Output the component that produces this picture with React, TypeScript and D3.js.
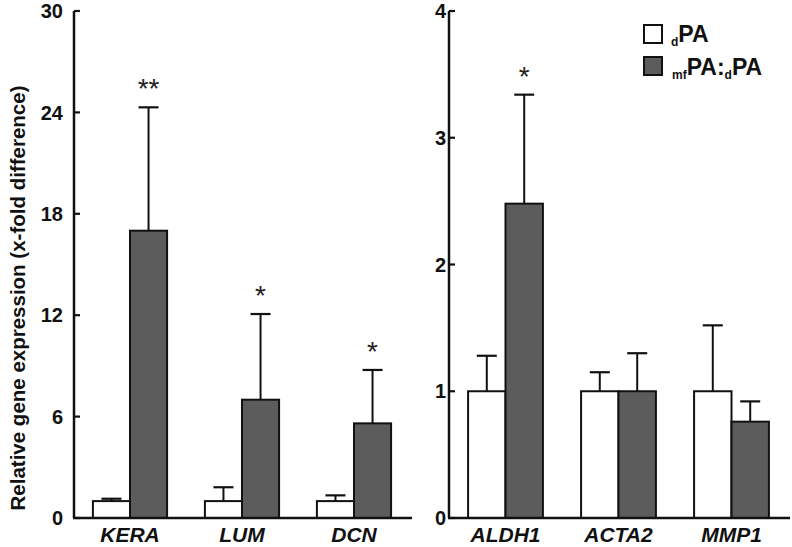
import React from 'react'
import * as d3 from 'd3'

// left panel genes
const genesLeft = ['KERA', 'LUM', 'DCN']
const dpaLeft = [1.0, 1.0, 1.0]
const dpaLeftErr = [1.14, 1.82, 1.34]
const mfLeft = [17.0, 7.0, 5.6]
const mfLeftErr = [24.3, 12.07, 8.76]
const sigLeft = ['**', '*', '*']
const ticksLeft = [0, 6, 12, 18, 24, 30]

// right panel genes
const genesRight = ['ALDH1', 'ACTA2', 'MMP1']
const dpaRight = [1.0, 1.0, 1.0]
const dpaRightErr = [1.28, 1.15, 1.52]
const mfRight = [2.48, 1.0, 0.76]
const mfRightErr = [3.34, 1.30, 0.92]
const sigRight = ['*', '', '']
const ticksRight = [0, 1, 2, 3, 4]

const series = ['dPA', 'mfPA']
const fills: Record<string, string> = { dPA: '#ffffff', mfPA: '#5c5c5c' }

const W = 792
const H = 547
const bottom = 518
const top = 11
const font = 'Arial, "Liberation Sans", Helvetica, sans-serif'

interface PanelProps {
  genes: string[]
  dpa: number[]
  dpaErr: number[]
  mf: number[]
  mfErr: number[]
  sig: string[]
  ticks: number[]
  max: number
  x0: number
  x1: number
  labelDx: number
}

const Panel: React.FC<PanelProps> = ({ genes, dpa, dpaErr, mf, mfErr, sig, ticks, max, x0, x1, labelDx }) => {
  const y = d3.scaleLinear().domain([0, max]).range([bottom, top])
  const x = d3.scaleBand<string>().domain(genes).range([x0, x1]).padding(0)
  const xs = d3.scaleBand<string>().domain(series).range([0, x.bandwidth()]).paddingInner(0).paddingOuter(0.51)
  const bw = xs.bandwidth()

  return (
    <g>
      {genes.map((g, i) => {
        const vals = [
          { s: 'dPA', v: dpa[i], e: dpaErr[i] },
          { s: 'mfPA', v: mf[i], e: mfErr[i] }
        ]
        return (
          <g key={g}>
            {vals.map(d => {
              const bx = (x(g) || 0) + (xs(d.s) || 0)
              const cx = bx + bw / 2
              return (
                <g key={d.s}>
                  <line x1={cx} x2={cx} y1={y(d.v)} y2={y(d.e)} stroke="#111" strokeWidth={2} />
                  <line x1={cx - 10} x2={cx + 10} y1={y(d.e)} y2={y(d.e)} stroke="#111" strokeWidth={2.2} />
                  <rect x={bx} y={y(d.v)} width={bw} height={bottom - y(d.v)} fill={fills[d.s]} stroke="#111" strokeWidth={2} />
                </g>
              )
            })}
            {sig[i] && (
              <text
                x={(x(g) || 0) + (xs('mfPA') || 0) + bw / 2}
                y={y(mfErr[i]) - 9}
                textAnchor="middle"
                fontSize={28}
                fill="#222"
                fontFamily={font}
              >
                {sig[i]}
              </text>
            )}
            <text
              x={(x(g) || 0) + x.bandwidth() / 2}
              y={542}
              textAnchor="middle"
              fontSize={21}
              fontWeight="bold"
              fontStyle="italic"
              fill="#111"
              fontFamily={font}
            >
              {g}
            </text>
          </g>
        )
      })}
      {/* axes */}
      <line x1={x0} x2={x0} y1={top} y2={bottom} stroke="#111" strokeWidth={2.5} />
      <line x1={x0 - 1} x2={x1 + 2} y1={bottom} y2={bottom} stroke="#111" strokeWidth={2.5} />
      {ticks.map(t => (
        <g key={t}>
          <line x1={x0} x2={x0 + 6} y1={y(t)} y2={y(t)} stroke="#111" strokeWidth={2.2} />
          <text
            x={x0 - labelDx}
            y={y(t)}
            dy="0.36em"
            textAnchor="end"
            fontSize={20}
            fontWeight="bold"
            fill="#111"
            fontFamily={font}
          >
            {t}
          </text>
        </g>
      ))}
    </g>
  )
}

const App: React.FC = () => {
  return (
    <svg width={W} height={H} style={{ position: 'absolute', left: 0, top: 0, background: '#fff' }}>
      <rect x={0} y={0} width={W} height={H} fill="#fff" />
      <text
        transform={`translate(25, 298) rotate(-90)`}
        textAnchor="middle"
        fontSize={20.5}
        fontWeight="bold"
        fill="#111"
        fontFamily={font}
      >
        Relative gene expression (x-fold difference)
      </text>
      <Panel
        genes={genesLeft}
        dpa={dpaLeft}
        dpaErr={dpaLeftErr}
        mf={mfLeft}
        mfErr={mfLeftErr}
        sig={sigLeft}
        ticks={ticksLeft}
        max={30}
        x0={74}
        x1={410}
        labelDx={11}
      />
      <Panel
        genes={genesRight}
        dpa={dpaRight}
        dpaErr={dpaRightErr}
        mf={mfRight}
        mfErr={mfRightErr}
        sig={sigRight}
        ticks={ticksRight}
        max={4}
        x0={449}
        x1={788}
        labelDx={3}
      />
      {/* legend */}
      <g fontFamily={font} fontWeight="bold" fill="#111">
        <rect x={644} y={25} width={18} height={18} fill={fills.dPA} stroke="#111" strokeWidth={2} />
        <text x={671} y={42} fontSize={23}>
          <tspan fontSize={12} dy={4}>d</tspan>
          <tspan dy={-4}>PA</tspan>
        </text>
        <rect x={644} y={57} width={18} height={18} fill={fills.mfPA} stroke="#111" strokeWidth={2} />
        <text x={672} y={75} fontSize={23}>
          <tspan fontSize={12} dy={4}>mf</tspan>
          <tspan dy={-4}>PA:</tspan>
          <tspan fontSize={12} dy={4}>d</tspan>
          <tspan dy={-4}>PA</tspan>
        </text>
      </g>
    </svg>
  )
}

export default App
